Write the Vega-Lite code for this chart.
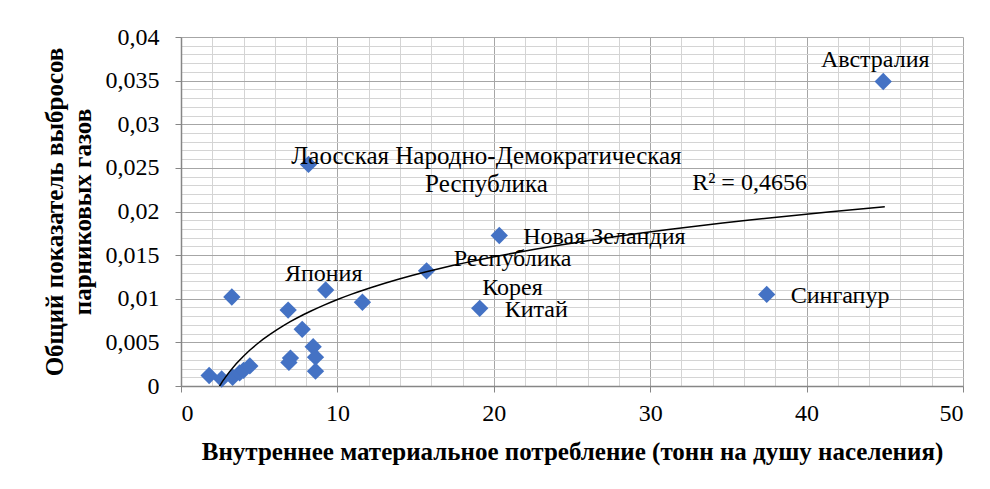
{
  "$schema": "https://vega.github.io/schema/vega-lite/v6.json",
  "width": 782,
  "height": 349,
  "autosize": {"type": "none"},
  "padding": {"left": 181, "top": 37, "right": 27, "bottom": 103},
  "background": "white",
  "config": {"view": {"stroke": null}, "font": "Liberation Serif"},
  "datasets": {
    "pts": [
      {"country": "Австралия", "x": 44.9, "y": 0.0349},
      {"country": "Лаосская Народно-Демократическая\nРеспублика", "x": 8.15, "y": 0.0254},
      {"country": "Новая Зеландия", "x": 20.35, "y": 0.01725},
      {"country": "Республика\nКорея", "x": 15.7, "y": 0.0132},
      {"country": "Сингапур", "x": 37.45, "y": 0.0105},
      {"country": "Япония", "x": 9.25, "y": 0.011},
      {"country": "Китай", "x": 19.1, "y": 0.0089},
      {"country": "", "x": 11.6, "y": 0.0096},
      {"country": "", "x": 3.25, "y": 0.0102},
      {"country": "", "x": 6.85, "y": 0.0087},
      {"country": "", "x": 7.75, "y": 0.0065},
      {"country": "", "x": 8.45, "y": 0.0045},
      {"country": "", "x": 8.6, "y": 0.0033},
      {"country": "", "x": 8.6, "y": 0.0017},
      {"country": "", "x": 7.0, "y": 0.0032},
      {"country": "", "x": 6.9, "y": 0.0027},
      {"country": "", "x": 1.8, "y": 0.0012},
      {"country": "", "x": 2.6, "y": 0.0008},
      {"country": "", "x": 3.3, "y": 0.001},
      {"country": "", "x": 3.75, "y": 0.0015},
      {"country": "", "x": 4.0, "y": 0.0018},
      {"country": "", "x": 4.4, "y": 0.0023}
    ]
  },
  "layer": [
    {
      "data": {"name": "pts"},
      "mark": {"type": "point", "opacity": 0},
      "encoding": {
        "x": {"field": "x", "type": "quantitative", "scale": {"domain": [0, 50], "nice": false, "zero": false},
          "axis": {"orient": "bottom", "values": [2,4,6,8,12,14,16,18,22,24,26,28,32,34,36,38,42,44,46,48], "grid": true, "gridColor": "#d4d4d4", "gridWidth": 1, "labels": false, "ticks": false, "domain": false, "title": null}},
        "y": {"field": "y", "type": "quantitative", "scale": {"domain": [0, 0.04], "nice": false, "zero": false},
          "axis": {"orient": "left", "values": [0.001,0.002,0.003,0.004,0.006,0.007,0.008,0.009,0.011,0.012,0.013,0.014,0.016,0.017,0.018,0.019,0.021,0.022,0.023,0.024,0.026,0.027,0.028,0.029,0.031,0.032,0.033,0.034,0.036,0.037,0.038,0.039], "grid": true, "gridColor": "#d4d4d4", "gridWidth": 1, "labels": false, "ticks": false, "domain": false, "title": null}}
      }
    },
    {
      "data": {"name": "pts"},
      "mark": {"type": "point", "shape": "diamond", "size": 300, "filled": true, "color": "#4472C4", "opacity": 1},
      "encoding": {
        "x": {"field": "x", "type": "quantitative",
          "axis": {"orient": "bottom", "values": [0,10,20,30,40,50], "grid": true, "gridColor": "#a6a6a6", "gridWidth": 1,
            "domainColor": "#868686", "domainWidth": 1.5, "tickColor": "#868686", "tickSize": 6,
            "labelFontSize": 24, "labelColor": "black", "labelPadding": 9, "labelFont": "Liberation Serif",
            "title": "Внутреннее материальное потребление (тонн на душу населения)",
            "titleFontSize": 25, "titleFontWeight": "bold", "titleColor": "black", "titlePadding": 14, "titleFont": "Liberation Serif"}},
        "y": {"field": "y", "type": "quantitative",
          "axis": {"orient": "left", "values": [0,0.005,0.01,0.015,0.02,0.025,0.03,0.035,0.04], "grid": true, "gridColor": "#a6a6a6", "gridWidth": 1,
            "domainColor": "#868686", "domainWidth": 1.5, "tickColor": "#868686", "tickSize": 6,
            "labelExpr": "replace(format(datum.value, '~g'), '.', ',')",
            "labelFontSize": 24, "labelColor": "black", "labelPadding": 16, "labelFont": "Liberation Serif",
            "title": ["Общий показатель выбросов", "парниковых газов"],
            "titleFontSize": 25, "titleFontWeight": "bold", "titleColor": "black", "titlePadding": 10, "titleLineHeight": 28, "titleFont": "Liberation Serif"}}
      }
    },
    {
      "data": {"name": "pts"},
      "transform": [{"regression": "y", "on": "x", "method": "log", "extent": [1.8, 45]}],
      "mark": {"type": "line", "color": "black", "strokeWidth": 1.5, "clip": true},
      "encoding": {
        "x": {"field": "x", "type": "quantitative", "axis": null},
        "y": {"field": "y", "type": "quantitative", "axis": null}
      }
    },
    {
      "data": {"name": "pts"},
      "transform": [{"filter": "datum.country == 'Австралия'"}],
      "mark": {"type": "text", "align": "center", "baseline": "middle", "dx": -8, "dy": -21, "fontSize": 24, "color": "black"},
      "encoding": {"x": {"field": "x", "type": "quantitative", "axis": null}, "y": {"field": "y", "type": "quantitative", "axis": null}, "text": {"field": "country"}}
    },
    {
      "data": {"name": "pts"},
      "transform": [{"filter": "indexof(datum.country, 'Лаосская') == 0"}],
      "mark": {"type": "text", "align": "center", "baseline": "middle", "dx": 178, "dy": -8, "fontSize": 25, "lineHeight": 28, "lineBreak": "\n", "color": "black"},
      "encoding": {"x": {"field": "x", "type": "quantitative", "axis": null}, "y": {"field": "y", "type": "quantitative", "axis": null}, "text": {"field": "country"}}
    },
    {
      "data": {"name": "pts"},
      "transform": [{"filter": "indexof(datum.country, 'Корея') > 0"}],
      "mark": {"type": "text", "align": "center", "baseline": "middle", "dx": 86, "dy": -12, "fontSize": 24, "lineHeight": 29, "lineBreak": "\n", "color": "black"},
      "encoding": {"x": {"field": "x", "type": "quantitative", "axis": null}, "y": {"field": "y", "type": "quantitative", "axis": null}, "text": {"field": "country"}}
    },
    {
      "data": {"name": "pts"},
      "transform": [{"filter": "datum.country == 'Новая Зеландия' || datum.country == 'Сингапур'"}],
      "mark": {"type": "text", "align": "left", "baseline": "middle", "dx": 24, "dy": 2, "fontSize": 24, "color": "black"},
      "encoding": {"x": {"field": "x", "type": "quantitative", "axis": null}, "y": {"field": "y", "type": "quantitative", "axis": null}, "text": {"field": "country"}}
    },
    {
      "data": {"name": "pts"},
      "transform": [{"filter": "datum.country == 'Китай'"}],
      "mark": {"type": "text", "align": "left", "baseline": "middle", "dx": 25, "dy": 2, "fontSize": 24, "color": "black"},
      "encoding": {"x": {"field": "x", "type": "quantitative", "axis": null}, "y": {"field": "y", "type": "quantitative", "axis": null}, "text": {"field": "country"}}
    },
    {
      "data": {"name": "pts"},
      "transform": [{"filter": "datum.country == 'Япония'"}],
      "mark": {"type": "text", "align": "center", "baseline": "middle", "dx": -2, "dy": -16, "fontSize": 24, "color": "black"},
      "encoding": {"x": {"field": "x", "type": "quantitative", "axis": null}, "y": {"field": "y", "type": "quantitative", "axis": null}, "text": {"field": "country"}}
    },
    {
      "data": {"values": [{"t": "R² = 0,4656", "x": 36.35, "y": 0.0233}]},
      "mark": {"type": "text", "align": "center", "baseline": "middle", "fontSize": 24, "color": "black"},
      "encoding": {"x": {"field": "x", "type": "quantitative", "axis": null}, "y": {"field": "y", "type": "quantitative", "axis": null}, "text": {"field": "t"}}
    }
  ],
  "resolve": {"axis": {"x": "independent", "y": "independent"}}
}
